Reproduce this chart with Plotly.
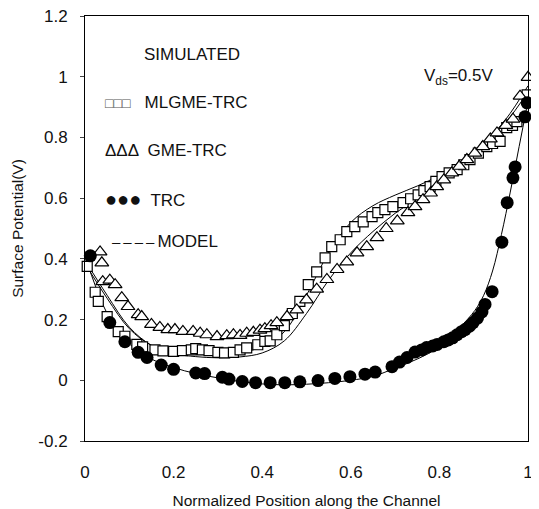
import plotly.graph_objects as go

# ---- simulated data ----
trc_x = [0.012, 0.056, 0.09, 0.12, 0.14, 0.172, 0.2, 0.25, 0.27, 0.31, 0.325, 0.355, 0.385,
         0.418, 0.451, 0.485, 0.526, 0.564, 0.598, 0.632, 0.655, 0.693, 0.71, 0.727, 0.745,
         0.76, 0.771, 0.785, 0.795, 0.81, 0.82, 0.83, 0.84, 0.85, 0.858, 0.868, 0.876, 0.886,
         0.896, 0.903, 0.919, 0.941, 0.953, 0.966, 0.971, 0.993, 0.998]
trc_y = [0.41, 0.19, 0.127, 0.092, 0.075, 0.05, 0.036, 0.024, 0.022, 0.01, 0.004, -0.004, -0.008,
         -0.008, -0.008, -0.005, -0.001, 0.006, 0.012, 0.02, 0.027, 0.045, 0.06, 0.075, 0.093,
         0.1, 0.108, 0.113, 0.118, 0.127, 0.133, 0.14, 0.15, 0.16, 0.167, 0.178, 0.19, 0.205,
         0.225, 0.25, 0.292, 0.455, 0.585, 0.667, 0.703, 0.868, 0.914]

mlgme_x = [0.005, 0.023, 0.03, 0.05, 0.075, 0.09, 0.117, 0.13, 0.158, 0.176, 0.2, 0.22, 0.24,
           0.25, 0.265, 0.28, 0.3, 0.315, 0.335, 0.35, 0.365, 0.39, 0.406, 0.418, 0.433, 0.45,
           0.468, 0.485, 0.504, 0.523, 0.542, 0.557, 0.576, 0.591, 0.609, 0.628, 0.648, 0.661,
           0.677, 0.695, 0.718, 0.735, 0.752, 0.765, 0.779, 0.792, 0.806, 0.822, 0.84, 0.855,
           0.869, 0.888, 0.907, 0.92, 0.937, 0.952, 0.965, 0.975, 0.998]
mlgme_y = [0.375, 0.29, 0.26, 0.21, 0.16, 0.145, 0.118, 0.11, 0.1, 0.097, 0.095, 0.098, 0.1,
           0.104, 0.1, 0.098, 0.092, 0.09, 0.092, 0.1, 0.107, 0.117, 0.128, 0.13, 0.15, 0.18,
           0.22, 0.26, 0.315, 0.357, 0.403, 0.44, 0.463, 0.49, 0.506, 0.522, 0.539, 0.552,
           0.562, 0.572, 0.585, 0.598, 0.611, 0.625, 0.638, 0.655, 0.671, 0.683, 0.694, 0.71,
           0.727, 0.748, 0.77, 0.78, 0.787, 0.832, 0.84, 0.852, 0.94]

gme_x = [0.034, 0.038, 0.04, 0.056, 0.068, 0.083, 0.097, 0.12, 0.128, 0.15, 0.169, 0.187, 0.203,
         0.221, 0.244, 0.26, 0.275, 0.298, 0.32, 0.335, 0.35, 0.365, 0.38, 0.395, 0.406, 0.42,
         0.433, 0.456, 0.478, 0.5, 0.523, 0.546, 0.569, 0.591, 0.614, 0.636, 0.659, 0.68, 0.705,
         0.729, 0.745, 0.763, 0.78, 0.794, 0.81, 0.828, 0.845, 0.862, 0.88, 0.898, 0.915, 0.93,
         0.95, 0.966, 0.982, 1.0]
gme_y = [0.423, 0.387, 0.325, 0.33, 0.315, 0.272, 0.243, 0.216, 0.21, 0.184, 0.174, 0.167, 0.167,
         0.161, 0.161, 0.155, 0.15, 0.144, 0.147, 0.15, 0.148, 0.155, 0.158, 0.165, 0.17, 0.18,
         0.19, 0.21, 0.232, 0.265, 0.3, 0.332, 0.365, 0.39, 0.42, 0.44, 0.47, 0.5, 0.525,
         0.552, 0.572, 0.595, 0.617, 0.638, 0.66, 0.683, 0.705, 0.727, 0.748, 0.77, 0.795, 0.815,
         0.84, 0.86, 0.936, 0.998]

# ---- model curves ----
model_x = [0, 0.05, 0.1, 0.15, 0.2, 0.25, 0.3, 0.35, 0.4, 0.45, 0.5, 0.55, 0.6, 0.65, 0.7,
           0.75, 0.8, 0.85, 0.9, 0.95, 1.0]
mlgme_model = [0.385, 0.27, 0.17, 0.115, 0.092, 0.085, 0.085, 0.092, 0.11, 0.16, 0.28, 0.42,
               0.52, 0.575, 0.61, 0.64, 0.675, 0.72, 0.78, 0.85, 0.95]
gme_model = [0.395, 0.28, 0.175, 0.115, 0.088, 0.078, 0.074, 0.077, 0.09, 0.13, 0.22, 0.33,
             0.42, 0.49, 0.55, 0.6, 0.655, 0.715, 0.78, 0.86, 0.97]
trc_model_x = [0, 0.05, 0.1, 0.15, 0.2, 0.25, 0.3, 0.35, 0.4, 0.45, 0.5, 0.55, 0.6, 0.65, 0.7,
               0.75, 0.8, 0.85, 0.88, 0.9, 0.92, 0.94, 0.96, 0.98, 1.0]
trc_model = [0.41, 0.22, 0.12, 0.07, 0.042, 0.022, 0.008, -0.004, -0.012, -0.015, -0.013, -0.008,
             0.0, 0.013, 0.04, 0.07, 0.11, 0.18, 0.23, 0.28, 0.36, 0.48, 0.62, 0.77, 0.92]

x_ticks = [0, 0.2, 0.4, 0.6, 0.8, 1]
x_labels = ["0", "0.2", "0.4", "0.6", "0.8", "1"]
y_ticks = [-0.2, 0, 0.2, 0.4, 0.6, 0.8, 1.0, 1.2]
y_labels = ["-0.2", "0", "0.2", "0.4", "0.6", "0.8", "1", "1.2"]

FONT = "Liberation Sans, Arial, sans-serif"
fig = go.Figure()

fig.add_trace(go.Scatter(x=model_x, y=mlgme_model, mode="lines", line=dict(color="black", width=1, shape="spline"), hoverinfo="skip"))
fig.add_trace(go.Scatter(x=model_x, y=gme_model, mode="lines", line=dict(color="black", width=1, shape="spline"), hoverinfo="skip"))
fig.add_trace(go.Scatter(x=trc_model_x, y=trc_model, mode="lines", line=dict(color="black", width=1, shape="spline"), hoverinfo="skip"))

fig.add_trace(go.Scatter(x=mlgme_x, y=mlgme_y, mode="markers", cliponaxis=False,
                         marker=dict(symbol="square", size=10, color="white", line=dict(color="black", width=1.2))))
fig.add_trace(go.Scatter(x=gme_x, y=gme_y, mode="markers", cliponaxis=False,
                         marker=dict(symbol="triangle-up", size=12, color="white", line=dict(color="black", width=1.2))))
fig.add_trace(go.Scatter(x=trc_x, y=trc_y, mode="markers", cliponaxis=False,
                         marker=dict(symbol="circle", size=13, color="black", line=dict(width=0))))

ann_font = dict(family=FONT, size=17, color="#111")
anns = [
    dict(x=0.242, y=1.073, text="SIMULATED", xanchor="center"),
    dict(x=0.041, y=0.915, text="<span style='font-size:14px;color:#555'>□□□</span>   MLGME-TRC", xanchor="left"),
    dict(x=0.041, y=0.757, text="ΔΔΔ  GME-TRC", xanchor="left"),
    dict(x=0.041, y=0.598, text="<span style='font-size:20px'>●●●</span>  TRC", xanchor="left"),
    dict(x=0.056, y=0.456, text="<span style='font-size:15px;letter-spacing:3px'>––––</span>MODEL", xanchor="left"),
    dict(x=0.76, y=1.0, text="V<sub>ds</sub>=0.5V", xanchor="left"),
]
for a in anns:
    fig.add_annotation(xref="x", yref="y", showarrow=False, yanchor="middle", font=ann_font, **a)

# page body adds an 8px offset; size the figure so the plot box lands at (85..528, 16..441)
fig.update_layout(
    width=531, height=501,
    margin=dict(l=77, r=11, t=8, b=68),
    paper_bgcolor="white", plot_bgcolor="white",
    showlegend=False,
    font=dict(family=FONT, size=17, color="#111"),
)
fig.update_xaxes(range=[0, 1], tickvals=x_ticks, ticktext=x_labels, showgrid=False, zeroline=False,
                 showline=True, linecolor="black", linewidth=1, mirror=True, ticks="",
                 ticklabelstandoff=16, automargin=False, tickfont=dict(size=17),
                 ticklabeloverflow="allow",
                 title=dict(text="Normalized Position along the Channel", font=dict(size=15.5), standoff=17))
fig.update_yaxes(range=[-0.2, 1.2], tickvals=y_ticks, ticktext=y_labels, showgrid=False, zeroline=False,
                 showline=True, linecolor="black", linewidth=1, mirror=True, ticks="outside", ticklen=4,
                 ticklabelstandoff=9, automargin=False, tickfont=dict(size=17),
                 ticklabeloverflow="allow",
                 title=dict(text="Surface Potential(V)", font=dict(size=15.5), standoff=10))

fig.write_html("out.html")
